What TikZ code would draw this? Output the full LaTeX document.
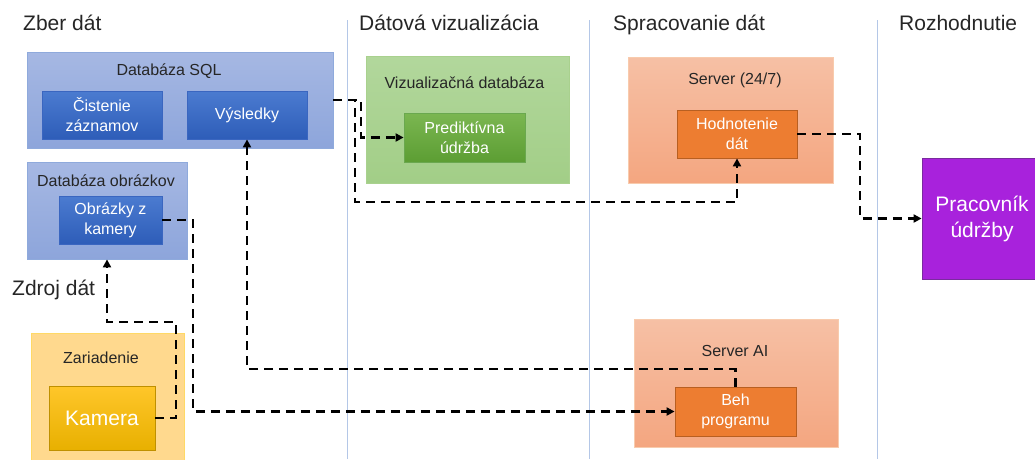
\documentclass[tikz,border=0pt]{standalone}
\usepackage{fontspec}
\setmainfont{Liberation Sans}
\usetikzlibrary{arrows.meta}
\definecolor{divc}{HTML}{B4C7E7}
\definecolor{txt}{HTML}{262626}
\definecolor{bo1}{HTML}{A6B8E3}\definecolor{bo2}{HTML}{8DA5DB}\definecolor{bob}{HTML}{8FAADC}
\definecolor{bi1}{HTML}{4B7BD0}\definecolor{bi2}{HTML}{2E5DB8}\definecolor{bib}{HTML}{3A66C0}
\definecolor{go1}{HTML}{B2D79C}\definecolor{go2}{HTML}{A2CE87}\definecolor{gob}{HTML}{A9D18E}
\definecolor{gi1}{HTML}{7BB651}\definecolor{gi2}{HTML}{5C9E33}\definecolor{gib}{HTML}{6AA84F}
\definecolor{so1}{HTML}{F6C0A5}\definecolor{so2}{HTML}{F4A680}\definecolor{sob}{HTML}{F8CBAD}
\definecolor{oi}{HTML}{ED7D31}\definecolor{oib}{HTML}{B85F21}
\definecolor{yo}{HTML}{FFD98E}\definecolor{yob}{HTML}{FFD966}
\definecolor{ki1}{HTML}{FFC62A}\definecolor{ki2}{HTML}{E8B000}\definecolor{kib}{HTML}{BF9000}
\definecolor{pu}{HTML}{A822DC}\definecolor{pub}{HTML}{7A2B9E}
\tikzset{
  box/.style={rectangle, inner sep=0pt, line width=0.8pt},
  blueout/.style={box, top color=bo1, bottom color=bo2, draw=bob},
  bluein/.style={box, top color=bi1, bottom color=bi2, draw=bib, text=white, align=center, font=\fontsize{16}{20}\selectfont},
  greenout/.style={box, top color=go1, bottom color=go2, draw=gob},
  greenin/.style={box, top color=gi1, bottom color=gi2, draw=gib, text=white, align=center, font=\fontsize{16}{20}\selectfont},
  salout/.style={box, top color=so1, bottom color=so2, draw=sob},
  orin/.style={box, fill=oi, draw=oib, text=white, align=center, font=\fontsize{16}{20}\selectfont},
  yelout/.style={box, fill=yo, draw=yob},
  kamin/.style={box, top color=ki1, bottom color=ki2, draw=kib, text=white, align=center, font=\fontsize{21}{25}\selectfont},
  purbox/.style={box, fill=pu, draw=pub, text=white, align=center, font=\fontsize{21}{26}\selectfont},
  title/.style={anchor=base, inner sep=0pt, text=txt, font=\fontsize{16}{20}\selectfont},
  header/.style={anchor=base west, inner sep=0pt, text=txt, font=\fontsize{21}{25}\selectfont},
  divider/.style={draw=divc, line width=1pt},
  conn/.style={line width=2.6pt, dash pattern=on 9pt off 6pt, -{Triangle[length=8pt,width=8pt]}},
  connn/.style={line width=2.6pt, dash pattern=on 9pt off 6pt}
}
\begin{document}
\begin{tikzpicture}[x=1pt,y=-1pt]
\clip (0,0) rectangle (1035,459);
\fill[white] (0,0) rectangle (1035,459);
% dividers
\draw[divider] (347,20) -- (347,459);
\draw[divider] (589,20) -- (589,459);
\draw[divider] (877,20) -- (877,459);
% headers
\node[header] (h1) at (23,30) {Zber dát};
\node[header] (h2) at (359,30) {Dátová vizualizácia};
\node[header] (h3) at (613,30) {Spracovanie dát};
\node[header] (h4) at (899,30) {Rozhodnutie};
% SQL
\node[blueout, minimum width=306pt, minimum height=96pt] (sql) at (180,100) {};
\node[title] (sqlt) at (169,75) {Databáza SQL};
\node[bluein, minimum width=120pt, minimum height=48pt] (cis) at (102,115) {Čistenie\\záznamov};
\node[bluein, minimum width=120pt, minimum height=48pt] (vys) at (247,115) {Výsledky};
% images db
\node[blueout, minimum width=160pt, minimum height=97pt] (dbo) at (107,210.5) {};
\node[title] (dbot) at (106,186) {Databáza obrázkov};
\node[bluein, minimum width=103pt, minimum height=48pt] (obr) at (110.5,220) {Obrázky z\\kamery};
% source
\node[anchor=base west, inner sep=0pt, text=txt, font=\fontsize{21}{25}\selectfont] (zdr) at (12,295) {Zdroj dát};
\node[yelout, minimum width=153pt, minimum height=140pt] (zar) at (107.5,403) {};
\node[title] (zart) at (101,363) {Zariadenie};
\node[kamin, minimum width=106pt, minimum height=64pt] (kam) at (102,418) {Kamera};
% visualization
\node[greenout, minimum width=203pt, minimum height=127pt] (viz) at (467.5,119.5) {};
\node[title] (vizt) at (464.5,88) {Vizualizačná databáza};
\node[greenin, minimum width=121pt, minimum height=49pt] (pred) at (464.5,137.5) {Prediktívna\\údržba};
% server 24/7
\node[salout, minimum width=205pt, minimum height=126pt] (srv) at (730.5,120) {};
\node[title] (srvt) at (735,84) {Server (24/7)};
\node[orin, minimum width=120pt, minimum height=48pt] (hod) at (737,134) {Hodnotenie\\dát};
% server AI
\node[salout, minimum width=204pt, minimum height=128pt] (sai) at (736,383) {};
\node[title] (sait) at (735,356) {Server AI};
\node[orin, minimum width=121pt, minimum height=49pt] (beh) at (735.5,411.5) {Beh\\programu};
% worker
\node[purbox, minimum width=120pt, minimum height=121pt] (pra) at (982,218.5) {Pracovník\\údržby};
% coordinates
\coordinate (c1) at (355,202);
\coordinate (c0) at (361,137.5);
\coordinate (c2) at (860,218.5);
\coordinate (c3) at (193,411.5);
\coordinate (c4) at (176,322);
\coordinate (c5) at (247,369);
% connectors
\draw[conn] (sql.east) -| (c0) -- (pred.west);
\draw[conn] (sql.east) -| (c1) -| (hod.south);
\draw[conn] (hod.east) -| (c2) -- (pra.west);
\draw[conn] (obr.east) -| (c3) -- (beh.west);
\draw[conn] (kam.east) -| (c4) -| (dbo.south);
\draw[conn] (beh.north) |- (c5) -- (vys.south);
\end{tikzpicture}
\end{document}
